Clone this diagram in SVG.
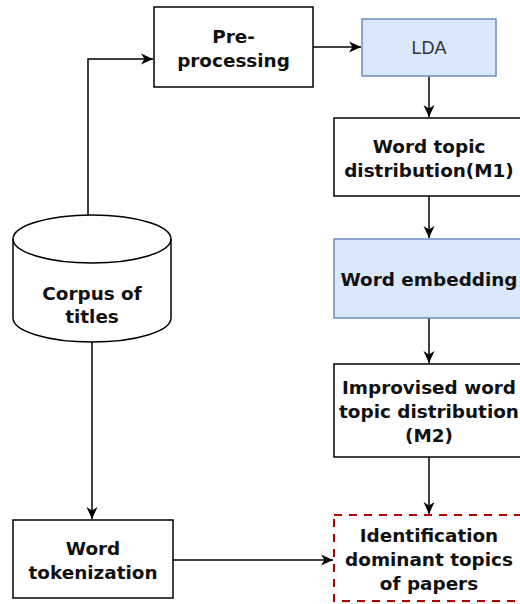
<svg xmlns="http://www.w3.org/2000/svg" width="520" height="604" viewBox="0 0 520 604">
<defs>
<marker id="arr" markerUnits="userSpaceOnUse" markerWidth="13" markerHeight="13" viewBox="0 0 13 13" refX="12" refY="6.5" orient="auto">
<path d="M0,1 L12,6.5 L0,12 L3.5,6.5 z" fill="#000"/>
</marker>
<style>
.box{fill:#fff;stroke:#000;stroke-width:1.5}
.blue{fill:#dae8fc;stroke:#6c8ebf;stroke-width:1.5}
.t{font-family:"DejaVu Sans",Verdana,sans-serif;font-weight:bold;font-size:18.4px;fill:#111;text-anchor:middle}
.tl{font-family:"Liberation Sans",Arial,sans-serif;font-size:18px;fill:#333;text-anchor:middle}
.c{fill:none;stroke:#000;stroke-width:1.5;marker-end:url(#arr)}
</style>
</defs>
<rect width="520" height="604" fill="#fff"/>
<g id="connectors">
<path class="c" d="M88,215 V59 H153"/>
<path class="c" d="M313,47 H361"/>
<path class="c" d="M429,76 V117"/>
<path class="c" d="M429,196 V238"/>
<path class="c" d="M429,318 V363"/>
<path class="c" d="M429,457 V514"/>
<path class="c" d="M92,342 V519"/>
<path class="c" d="M173,560 H333"/>
</g>
<g id="preprocessing">
<rect class="box" x="154" y="7" width="159" height="80"/>
<text class="t" x="233.5" y="43">Pre-</text>
<text class="t" x="233.5" y="67">processing</text>
</g>
<g id="lda">
<rect class="blue" x="362" y="19" width="134" height="57"/>
<text class="tl" x="429" y="54">LDA</text>
</g>
<g id="wtd">
<rect class="box" x="334" y="118" width="190" height="78"/>
<text class="t" x="429" y="153">Word topic</text>
<text class="t" x="429" y="177">distribution(M1)</text>
</g>
<g id="wemb">
<rect class="blue" x="334" y="239" width="190" height="79"/>
<text class="t" x="429" y="286">Word embedding</text>
</g>
<g id="improv">
<rect class="box" x="334" y="364" width="190" height="93"/>
<text class="t" x="429" y="394">Improvised word</text>
<text class="t" x="429" y="418">topic distribution</text>
<text class="t" x="429" y="442">(M2)</text>
</g>
<g id="ident">
<rect x="334" y="515" width="190" height="86" fill="#fff" stroke="#b20000" stroke-width="2" stroke-dasharray="8 7"/>
<text class="t" x="429" y="542">Identification</text>
<text class="t" x="429" y="566">dominant topics</text>
<text class="t" x="429" y="590">of papers</text>
</g>
<g id="corpus">
<path class="box" d="M13,239 A79,24 0 0 1 171,239 V318 A79,24 0 0 1 13,318 Z"/>
<path d="M13,239 A79,24 0 0 0 171,239" fill="none" stroke="#000" stroke-width="1.5"/>
<text class="t" x="92" y="300">Corpus of</text>
<text class="t" x="92" y="323">titles</text>
</g>
<g id="wtok">
<rect class="box" x="13" y="520" width="160" height="78"/>
<text class="t" x="93" y="555">Word</text>
<text class="t" x="93" y="579">tokenization</text>
</g>
</svg>
